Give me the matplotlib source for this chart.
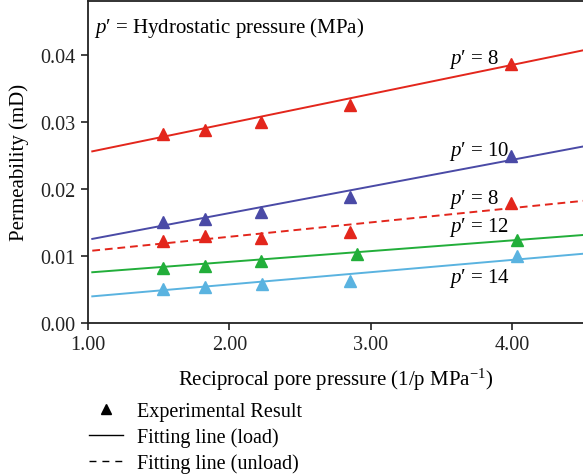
import numpy as np
import matplotlib
matplotlib.use('Agg')
import matplotlib.pyplot as plt
from matplotlib.lines import Line2D

plt.rcParams['font.family'] = ['Liberation Serif', 'DejaVu Serif']
plt.rcParams['mathtext.fontset'] = 'custom'
plt.rcParams['mathtext.it'] = 'Liberation Serif:italic'
plt.rcParams['mathtext.rm'] = 'Liberation Serif'

# Обратное поровое давление, 1/p
recip_p = [1.53, 1.83, 2.22, 2.85, 3.99]
recip_p_12 = [1.53, 1.83, 2.22, 2.90, 4.03]
recip_p_14 = [1.53, 1.83, 2.23, 2.85, 4.03]

# Проницаемость (мД) для каждого гидростатического давления
perm_8_load = [0.0282, 0.0288, 0.0300, 0.0325, 0.0386]
perm_10_load = [0.0151, 0.0155, 0.0166, 0.0187, 0.0249]
perm_8_unload = [0.0122, 0.0130, 0.0127, 0.0136, 0.0179]
perm_12_load = [0.0082, 0.0085, 0.0093, 0.0103, 0.0124]
perm_14_load = [0.0051, 0.0054, 0.0058, 0.0063, 0.0099]

# Параметры аппроксимирующих прямых k = a + b/p
fit_intercept = [0.0211, 0.00843, 0.00856, 0.0059, 0.00207]
fit_slope = [0.00434, 0.00397, 0.00214, 0.0016, 0.00183]

labels = ['8', '10', '8', '12', '14']
label_y = [0.0394, 0.0257, 0.0185, 0.0143, 0.0067]
colors = ['#e3261c', '#4a4aa6', '#e3261c', '#22ae3a', '#5ab3e0']
styles = ['-', '-', '--', '-', '-']

series_x = [recip_p, recip_p, recip_p, recip_p_12, recip_p_14]
series_y = [perm_8_load, perm_10_load, perm_8_unload, perm_12_load, perm_14_load]

fig = plt.figure(figsize=(5.83, 4.77), dpi=100)
ax = fig.add_axes([0.151, 0.321, 0.849, 0.675])

xx = np.linspace(1.03, 4.5, 50)
for i in range(5):
    if styles[i] == '--':
        ax.plot(xx, fit_intercept[i] + fit_slope[i] * xx, color=colors[i], lw=1.4, dashes=(4, 2.5))
    else:
        ax.plot(xx, fit_intercept[i] + fit_slope[i] * xx, color=colors[i], lw=1.4)
    ax.plot(series_x[i], series_y[i], '^', color=colors[i], ms=8, mec=colors[i])
    ax.text(3.55, label_y[i], "$p$\u2032 = " + labels[i], fontsize=15, va='center', ha='left')

ax.text(0.012, 0.92, "$p$\u2032 = Hydrostatic pressure (MPa)", transform=ax.transAxes,
        fontsize=15, va='center', ha='left')

ax.set_xlim(1.0, 4.5)
ax.set_ylim(0.0, 0.048)
ax.set_xticks([1, 2, 3, 4])
ax.set_xticklabels(['1.00', '2.00', '3.00', '4.00'])
ax.set_yticks([0, 0.01, 0.02, 0.03, 0.04])
ax.set_yticklabels(['0.00', '0.01', '0.02', '0.03', '0.04'])
ax.tick_params(labelsize=14.5, direction='out', length=5, width=1.2, colors='#222222', pad=4)
ax.spines['right'].set_visible(False)
for s in ['left', 'bottom', 'top']:
    ax.spines[s].set_linewidth(1.3)
    ax.spines[s].set_color('#222222')

ax.set_xlabel("Reciprocal pore pressure (1/p MPa$^{-1}$)", fontsize=15, labelpad=8)
ax.set_ylabel('Permeability (mD)', fontsize=15, labelpad=8)

handles = [
    Line2D([], [], marker='^', color='black', linestyle='none', ms=6.5),
    Line2D([], [], color='black', lw=1.0),
    Line2D([], [], color='black', lw=1.0, dashes=(5, 4.3)),
]
fig.legend(handles, ['Experimental Result', 'Fitting line (load)', 'Fitting line (unload)'],
           loc='upper left', bbox_to_anchor=(0.1355, 0.176), frameon=False, fontsize=14.5,
           handlelength=1.69, handletextpad=0.7, labelspacing=0.3, borderpad=0)

fig.savefig('out.png', dpi=100)
